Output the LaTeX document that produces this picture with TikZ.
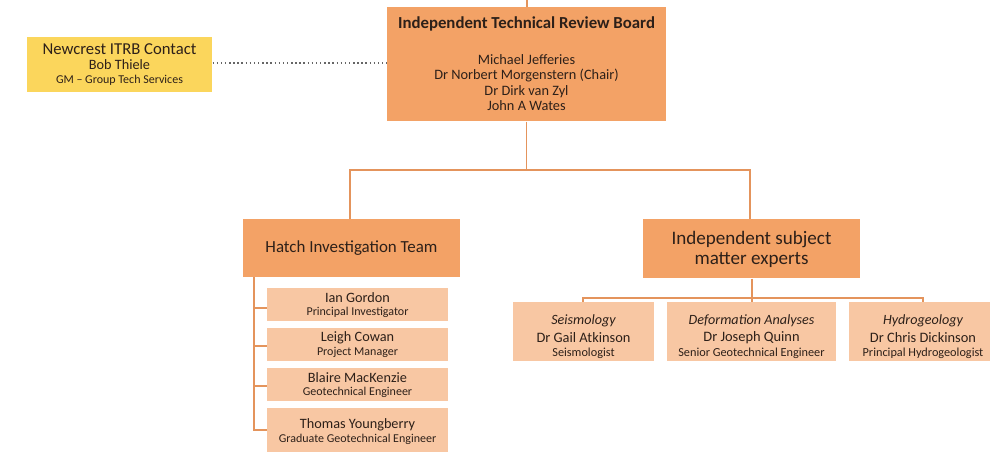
\documentclass[tikz,border=0pt]{standalone}
\usepackage{fontspec}
\setmainfont{Carlito}
\definecolor{mainor}{RGB}{243,162,102}
\definecolor{lightor}{RGB}{248,199,163}
\definecolor{yel}{RGB}{251,214,92}
\definecolor{lineor}{RGB}{228,148,92}
\definecolor{txt}{RGB}{45,32,25}
\begin{document}
\begin{tikzpicture}[x=0.75pt,y=-0.75pt,
  box/.style={draw=none,inner sep=0pt,align=center,text=txt,anchor=north west},
  conn/.style={draw=lineor,line width=1.2pt},
  sz/.style 2 args={minimum width=#1*0.75pt,minimum height=#2*0.75pt}]
\useasboundingbox (0,0) rectangle (990,451);
% top boxes
\node[box,fill=yel,sz={185}{55}] (nc) at (27,37) {};
\node[txt,font=\fontsize{12.5}{14}\selectfont] (nct) at (119.5,49) {Newcrest ITRB Contact};
\node[txt,font=\fontsize{10.7}{12}\selectfont] (ncb) at (119.5,65) {Bob Thiele};
\node[txt,font=\fontsize{9}{10}\selectfont] (ncg) at (119.5,80) {GM -- Group Tech Services};
\node[box,fill=mainor,sz={279}{114}] (itrb) at (387,7) {};
\node[txt,font=\bfseries\fontsize{12.6}{14}\selectfont] (itrbt) at (526.5,24) {Independent Technical Review Board};
\node[txt,font=\fontsize{10.75}{11.4}\selectfont,align=center] (itrbn) at (526.5,82.5) {Michael Jefferies\\Dr Norbert Morgenstern (Chair)\\Dr Dirk van Zyl\\John A Wates};
\coordinate (top) at (527,0);
\draw[conn] (top) -- (itrb.north -| top);
\draw[line width=1.1pt,dotted,draw=black!60] (nc.east |- 0,63) -- (itrb.west |- 0,63);
% second level
\node[box,fill=mainor,sz={217}{58}] (hatch) at (243,219) {};
\node[txt,font=\fontsize{12.7}{14}\selectfont] (hatcht) at (351.5,248) {Hatch Investigation Team};
\node[box,fill=mainor,sz={217}{59}] (isme) at (643,219) {};
\node[txt,font=\fontsize{14.3}{15}\selectfont,align=center] (ismet) at (751.5,249) {Independent subject\\matter experts};
\coordinate (split) at (526.5,170);
\draw[conn] (itrb.south -| split) -- (split);
\draw[conn] (hatch.north -| 350,0) |- (split) -| (isme.north -| 750,0);
% hatch members
\tikzset{mem/.style={box,fill=lightor,sz={181}{#1}}}
\node[mem=33] (ian) at (267,288) {};
\node[mem=33] (leigh) at (267,328) {};
\node[mem=33] (blaire) at (267,368) {};
\node[mem=48] (thomas) at (267,408) {};
\tikzset{nm/.style={txt,font=\fontsize{10.7}{12}\selectfont},rl/.style={txt,font=\fontsize{9}{10}\selectfont}}
\node[nm] at (357.5,298) {Ian Gordon};
\node[rl] at (357.5,312) {Principal Investigator};
\node[nm] at (357.5,338) {Leigh Cowan};
\node[rl] at (357.5,352) {Project Manager};
\node[nm] at (357.5,378) {Blaire MacKenzie};
\node[rl] at (357.5,392) {Geotechnical Engineer};
\node[nm] at (357.5,425) {Thomas Youngberry};
\node[rl] at (357.5,439) {Graduate Geotechnical Engineer};
\coordinate (hv) at (254,277);
\draw[conn] (hv) -- (254,430) -- (thomas.west |- 0,430);
\draw[conn] (254,308) -- (ian.west |- 0,308);
\draw[conn] (254,346) -- (leigh.west |- 0,346);
\draw[conn] (254,386) -- (blaire.west |- 0,386);
% experts
\tikzset{exp/.style={box,fill=lightor,sz={#1}{59}}}
\node[exp=141] (seis) at (513,302) {};
\node[exp=169] (defo) at (667,302) {};
\node[exp=148] (hydro) at (849,302) {};
\tikzset{fi/.style={txt,font=\itshape\fontsize{10.6}{12}\selectfont},
         en/.style={txt,font=\fontsize{10.8}{12}\selectfont},
         er/.style={txt,font=\fontsize{9.2}{10}\selectfont}}
\node[fi] at (583.5,321) {Seismology};
\node[en] at (583.5,338) {Dr Gail Atkinson};
\node[er] at (583.5,353) {Seismologist};
\node[fi] at (751.5,321) {Deformation Analyses};
\node[en] at (751.5,338) {Dr Joseph Quinn};
\node[er] at (751.5,353) {Senior Geotechnical Engineer};
\node[fi] at (923,321) {Hydrogeology};
\node[en] at (923,338) {Dr Chris Dickinson};
\node[er] at (923,353) {Principal Hydrogeologist};
\coordinate (es) at (752,298);
\draw[conn] (isme.south -| es) -- (es);
\draw[conn] (seis.north -| 583,0) |- (es) -| (hydro.north -| 923,0);
\draw[conn] (es) -- (defo.north -| es);
\end{tikzpicture}
\end{document}
